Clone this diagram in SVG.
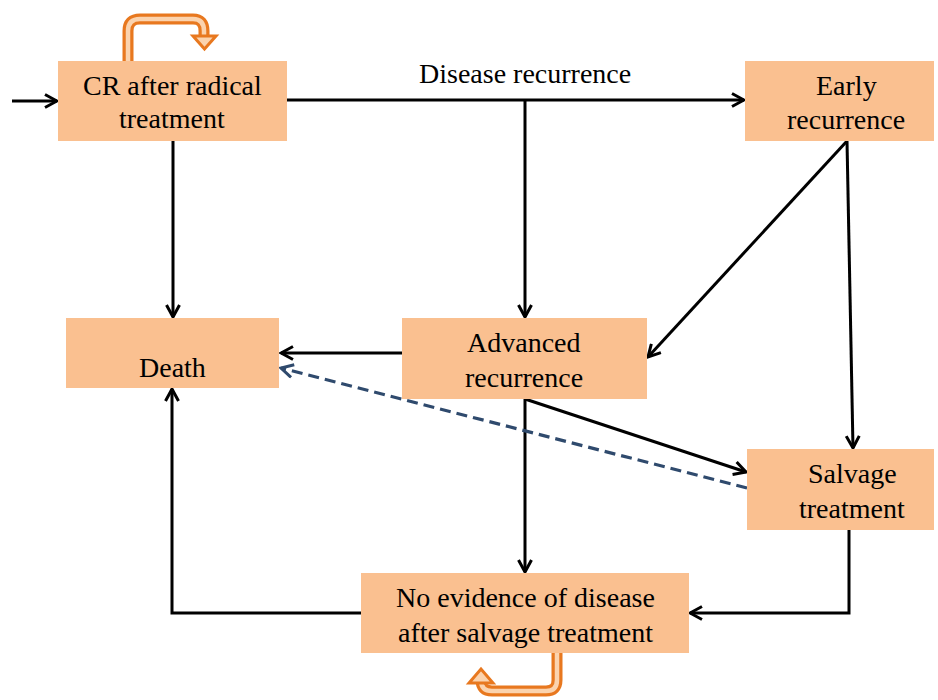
<svg xmlns="http://www.w3.org/2000/svg" width="938" height="700" viewBox="0 0 938 700">
<defs>
<marker id="a" viewBox="0 0 16 16" refX="14" refY="8" markerWidth="16" markerHeight="16" markerUnits="userSpaceOnUse" orient="auto">
<path d="M2,1.5 L14,8 L2,14.5" fill="none" stroke="#000" stroke-width="3"/>
</marker>
<marker id="b" viewBox="0 0 16 16" refX="14" refY="8" markerWidth="16" markerHeight="16" markerUnits="userSpaceOnUse" orient="auto">
<path d="M2,1.5 L14,8 L2,14.5" fill="none" stroke="#2F4A6D" stroke-width="3"/>
</marker>
</defs>
<rect width="938" height="700" fill="#fff"/>

<g id="connectors" fill="none" stroke="#000" stroke-width="3">
<line x1="12" y1="101" x2="57" y2="101" marker-end="url(#a)"/>
<line x1="287" y1="100" x2="744" y2="100" marker-end="url(#a)"/>
<line x1="525" y1="100" x2="525" y2="317" marker-end="url(#a)"/>
<line x1="173" y1="141" x2="173" y2="317" marker-end="url(#a)"/>
<line x1="402" y1="353" x2="281" y2="353" marker-end="url(#a)"/>
<line x1="847" y1="141" x2="648" y2="357" marker-end="url(#a)"/>
<line x1="847" y1="141" x2="853" y2="448" marker-end="url(#a)"/>
<line x1="525" y1="399" x2="525" y2="572" marker-end="url(#a)"/>
<line x1="525" y1="399" x2="746" y2="472" marker-end="url(#a)"/>
<line x1="747" y1="488" x2="281" y2="368" stroke="#2F4A6D" stroke-width="3.2" stroke-dasharray="11,6" marker-end="url(#b)"/>
<polyline points="849,530 849,613 690,613" marker-end="url(#a)"/>
<polyline points="361,613 172,613 172,389" marker-end="url(#a)"/>
</g>
<text x="419" y="83" font-family="Liberation Serif" font-size="28">Disease recurrence</text>

<g id="loop-cr" fill="none">
<path stroke="#E8781F" stroke-width="11" d="M128,62 V31 Q128,19 140,19 H193 Q204,19 204,31 V37"/>
<path stroke="#FBD3AE" stroke-width="4.5" d="M128,62 V31 Q128,19 140,19 H193 Q204,19 204,31 V38"/>
<polygon fill="#FBD3AE" stroke="#E8781F" stroke-width="3" points="193,36 216,36 204.5,49"/>
</g>

<g id="loop-ned" fill="none">
<path stroke="#E8781F" stroke-width="11" d="M557,652 V680 Q557,691 546,691 H492 Q481,691 481,680 V683"/>
<path stroke="#FBD3AE" stroke-width="4.5" d="M557,652 V680 Q557,691 546,691 H492 Q481,691 481,680 V682"/>
<polygon fill="#FBD3AE" stroke="#E8781F" stroke-width="3" points="469,683 493,683 481,669"/>
</g>

<g id="cr">
<rect fill="#FAC090" x="58" y="61" width="229" height="80"/>
<text x="83" y="95" font-family="Liberation Serif" font-size="28">CR after radical</text>
<text x="119" y="128" font-family="Liberation Serif" font-size="28">treatment</text>
</g>
<g id="early">
<rect fill="#FAC090" x="745" y="61" width="189" height="80"/>
<text x="816" y="95" font-family="Liberation Serif" font-size="28">Early</text>
<text x="787" y="129" font-family="Liberation Serif" font-size="28">recurrence</text>
</g>
<g id="death">
<rect fill="#FAC090" x="66" y="318" width="213" height="70"/>
<text x="139" y="377" font-family="Liberation Serif" font-size="28">Death</text>
</g>
<g id="advanced">
<rect fill="#FAC090" x="402" y="318" width="245" height="81"/>
<text x="467" y="352" font-family="Liberation Serif" font-size="28">Advanced</text>
<text x="465" y="387" font-family="Liberation Serif" font-size="28">recurrence</text>
</g>
<g id="salvage">
<rect fill="#FAC090" x="747" y="449" width="187" height="81"/>
<text x="808" y="483" font-family="Liberation Serif" font-size="28">Salvage</text>
<text x="799" y="518" font-family="Liberation Serif" font-size="28">treatment</text>
</g>
<g id="ned">
<rect fill="#FAC090" x="361" y="573" width="328" height="80"/>
<text x="396" y="607" font-family="Liberation Serif" font-size="28">No evidence of disease</text>
<text x="398" y="642" font-family="Liberation Serif" font-size="28">after salvage treatment</text>
</g>
</svg>
